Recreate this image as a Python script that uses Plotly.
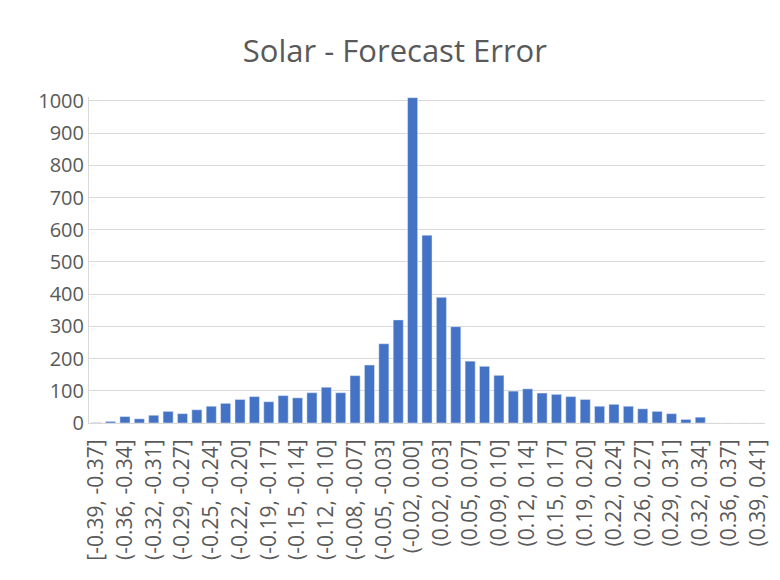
import plotly.graph_objects as go

# Histogram bins (47 bins), every other label is shown on the axis
bin_labels = [
    "[-0.39, -0.37]", "(-0.37, -0.36]", "(-0.36, -0.34]", "(-0.34, -0.32]",
    "(-0.32, -0.31]", "(-0.31, -0.29]", "(-0.29, -0.27]", "(-0.27, -0.25]",
    "(-0.25, -0.24]", "(-0.24, -0.22]", "(-0.22, -0.20]", "(-0.20, -0.19]",
    "(-0.19, -0.17]", "(-0.17, -0.15]", "(-0.15, -0.14]", "(-0.14, -0.12]",
    "(-0.12, -0.10]", "(-0.10, -0.08]", "(-0.08, -0.07]", "(-0.07, -0.05]",
    "(-0.05, -0.03]", "(-0.03, -0.02]", "(-0.02, 0.00]", "(0.00, 0.02]",
    "(0.02, 0.03]", "(0.03, 0.05]", "(0.05, 0.07]", "(0.07, 0.09]",
    "(0.09, 0.10]", "(0.10, 0.12]", "(0.12, 0.14]", "(0.14, 0.15]",
    "(0.15, 0.17]", "(0.17, 0.19]", "(0.19, 0.20]", "(0.20, 0.22]",
    "(0.22, 0.24]", "(0.24, 0.26]", "(0.26, 0.27]", "(0.27, 0.29]",
    "(0.29, 0.31]", "(0.31, 0.32]", "(0.32, 0.34]", "(0.34, 0.36]",
    "(0.36, 0.37]", "(0.37, 0.39]", "(0.39, 0.41]",
]

# Counts per bin
counts = [
    1, 5, 20, 13, 24, 36, 29, 41, 52, 61,
    73, 82, 66, 85, 78, 94, 111, 94, 147, 180,
    246, 320, 1010, 583, 390, 299, 192, 176, 148, 99,
    106, 93, 89, 82, 73, 52, 58, 52, 44, 36,
    29, 11, 18, 0, 0, 0, 0,
]

shown_labels = bin_labels[::2]
y_ticks = list(range(0, 1001, 100))

fig = go.Figure(go.Bar(
    x=bin_labels,
    y=counts,
    marker_color="#4472C4",
))

fig.update_layout(
    width=780,
    height=580,
    paper_bgcolor="white",
    plot_bgcolor="white",
    font=dict(family="Open Sans", color="#595959"),
    title=dict(text="Solar - Forecast Error", x=0.496, xanchor="center",
               y=0.926, yanchor="middle", font=dict(size=31, color="#595959")),
    margin=dict(l=81, r=23, t=89, b=165),
    bargap=0.3,
    showlegend=False,
)
fig.update_xaxes(
    type="category",
    tickmode="array",
    tickvals=shown_labels,
    ticktext=shown_labels,
    tickangle=-90,
    tickfont=dict(size=21, color="#595959"),
    ticks="outside",
    ticklen=7,
    tickcolor="rgba(0,0,0,0)",
    showline=True,
    linecolor="#d9d9d9",
    showgrid=False,
    automargin=False,
)
fig.update_yaxes(
    range=[0, 1012],
    tickmode="array",
    tickvals=y_ticks,
    tickfont=dict(size=20, color="#595959"),
    showgrid=True,
    gridcolor="#d9d9d9",
    showline=True,
    linecolor="#d9d9d9",
    zeroline=False,
    automargin=False,
)

fig.write_html("out.html")
